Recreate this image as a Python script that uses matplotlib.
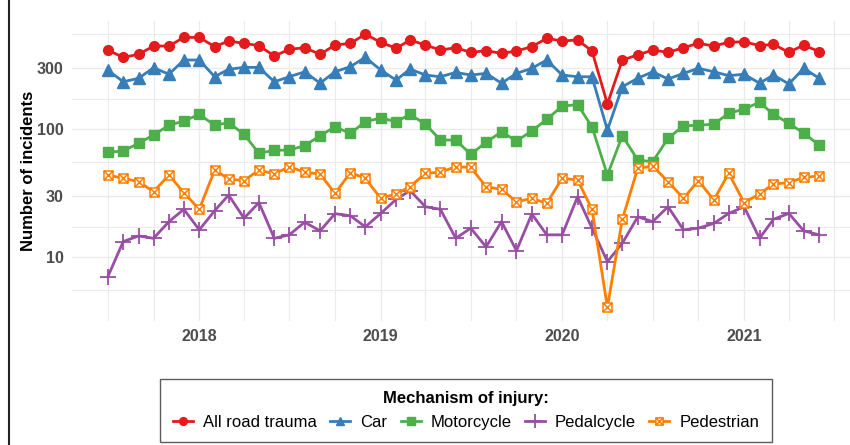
import numpy as np
import pandas as pd
import matplotlib
matplotlib.use('Agg')
import matplotlib.pyplot as plt
import matplotlib.dates as mdates
from matplotlib.path import Path
from matplotlib.lines import Line2D

plt.rcParams['font.family'] = ['Liberation Sans', 'DejaVu Sans']

# monthly counts, Jul 2017 - Jun 2021
months = pd.date_range('2017-07-01', periods=48, freq='MS')

all_road = [414, 363, 383, 445, 445, 520, 520, 440, 487, 467, 448, 372,
            419, 432, 383, 453, 467, 550, 476, 427, 496, 453, 414, 432,
            397, 409, 390, 407, 440, 511, 487, 496, 407, 157, 346, 379,
            414, 397, 432, 467, 445, 476, 481, 448, 459, 397, 453, 402]
car = [289, 234, 249, 301, 268, 346, 346, 256, 293, 303, 303, 234,
       256, 280, 228, 280, 307, 363, 289, 241, 294, 264, 256, 277,
       264, 272, 228, 272, 298, 346, 264, 256, 256, 98, 214, 249,
       280, 246, 272, 298, 280, 261, 268, 228, 264, 225, 298, 249]
motorcycle = [65.8, 67.3, 77.3, 89.8, 107, 115.5, 130, 107, 112, 91, 64.6, 68.2,
              68.5, 74.1, 88.6, 104, 92.5, 114, 122, 114, 130, 109, 82, 82,
              63.5, 78.7, 95.2, 80.6, 96.5, 119, 151, 155, 104, 43.7, 88.6, 57.3,
              55.5, 84.6, 106, 107, 109, 133, 143, 162, 130, 111, 92.5, 75]
pedalcycle = [7.0, 13.2, 14.6, 14.0, 18.9, 23.6, 16.3, 23.0, 30.5, 20.1, 26.6, 14.0,
              14.9, 18.7, 16.0, 21.8, 21.0, 17.2, 21.9, 28.2, 33.0, 24.7, 23.6, 14.0,
              16.8, 12.0, 18.9, 11.2, 21.7, 14.9, 14.9, 29.6, 16.8, 9.2, 12.8, 20.6,
              18.9, 24.7, 16.3, 16.8, 18.3, 21.9, 24.7, 14.0, 19.7, 21.9, 16.0, 14.9]
pedestrian = [43.7, 41.2, 38.8, 32.4, 43.7, 31.8, 23.6, 47.8, 40.7, 39.5, 47.8, 44.5,
              50.8, 45.9, 44.5, 31.4, 45.6, 41.2, 28.7, 31.1, 35.4, 45.1, 45.9, 50.8,
              50.2, 35.4, 33.8, 27.0, 28.7, 26.3, 41.2, 40.0, 23.6, 4.05, 19.7, 49.3,
              51.4, 38.8, 28.7, 39.5, 27.9, 45.1, 26.6, 31.1, 37.2, 38.1, 41.9, 42.9]

series_names = ['All road trauma', 'Car', 'Motorcycle', 'Pedalcycle', 'Pedestrian']
series_values = [all_road, car, motorcycle, pedalcycle, pedestrian]
colors = ['#E41A1C', '#377EB8', '#4DAF4A', '#984EA3', '#FF7F00']

y_ticks = [10, 30, 100, 300]
y_minor = [5.48, 17.3, 54.8, 173, 548]

# square with a cross inside (ggplot shape 7)
box_x = Path([(-1, -1), (1, -1), (1, 1), (-1, 1), (-1, -1),
              (-1, -1), (1, 1), (-1, 1), (1, -1)],
             [Path.MOVETO, Path.LINETO, Path.LINETO, Path.LINETO, Path.CLOSEPOLY,
              Path.MOVETO, Path.LINETO, Path.MOVETO, Path.LINETO])

styles = [
    dict(marker='o', markersize=7),
    dict(marker='^', markersize=8),
    dict(marker='s', markersize=6.5),
    dict(marker='+', markersize=12, markeredgewidth=1.3),
    dict(marker=box_x, markersize=6.5, markerfacecolor='white', markeredgewidth=1.1),
]

fig = plt.figure(figsize=(8.5, 4.45), dpi=100)
ax = fig.add_axes([72 / 850, 1 - 321 / 445, 778 / 850, 300.4 / 445])

handles = []
for name, vals, col, st in zip(series_names, series_values, colors, styles):
    h, = ax.plot(months, vals, color=col, linewidth=2, label=name, zorder=3, **st)
    handles.append(h)

ax.set_yscale('log')
ax.set_ylim(10 ** 0.5, 10 ** 2.847)
ax.set_xlim(pd.Timestamp('2017-04-20'), pd.Timestamp('2021-08-02'))

ax.set_yticks(y_ticks)
ax.set_yticklabels([str(t) for t in y_ticks])
ax.yaxis.set_minor_locator(matplotlib.ticker.FixedLocator(y_minor))
ax.yaxis.set_minor_formatter(matplotlib.ticker.NullFormatter())

ax.xaxis.set_major_locator(mdates.YearLocator())
ax.xaxis.set_major_formatter(mdates.DateFormatter('%Y'))
ax.xaxis.set_minor_locator(mdates.MonthLocator(bymonth=[1, 4, 7, 10]))

ax.grid(which='major', color='#EBEBEB', linewidth=1.0, zorder=0)
ax.grid(which='minor', color='#EBEBEB', linewidth=0.8, zorder=0)
ax.tick_params(which='both', length=0)
ax.tick_params(axis='both', labelsize=11.5, labelcolor='#4D4D4D', pad=6)
for lab in ax.get_xticklabels() + ax.get_yticklabels():
    lab.set_fontweight('bold')
for sp in ax.spines.values():
    sp.set_visible(False)

ax.set_ylabel('Number of incidents', fontsize=12, fontweight='bold', labelpad=1)

leg = fig.legend(handles=handles, loc='center', bbox_to_anchor=(466 / 850, 1 - 410.5 / 445),
                 ncol=5, title='Mechanism of injury:', fontsize=12,
                 title_fontproperties={'weight': 'bold', 'size': 12},
                 frameon=True, fancybox=False, edgecolor='#333333',
                 handlelength=1.2, handletextpad=0.6, columnspacing=0.8,
                 borderpad=0.75, markerscale=0.8)
leg.get_frame().set_linewidth(1.0)

# left border of the original crop
fig.add_artist(Line2D([9 / 850, 9 / 850], [0, 1], color='#222222', linewidth=1.5,
                      transform=fig.transFigure))

fig.savefig('out.png', dpi=100)
